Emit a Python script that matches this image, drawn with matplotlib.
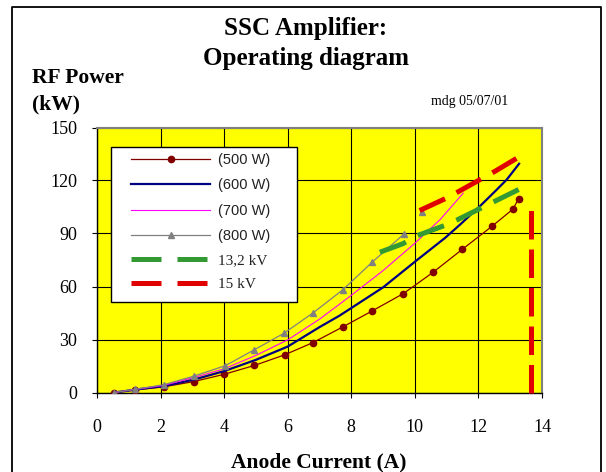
import numpy as np
import matplotlib
matplotlib.use("Agg")
import matplotlib.pyplot as plt
from matplotlib.lines import Line2D
from matplotlib.patches import Rectangle
from matplotlib.font_manager import FontProperties

# ---------------- data ----------------
x_500 = [0.55, 1.2, 2.1, 3.05, 4.0, 4.95, 5.9, 6.8, 7.73, 8.64, 9.64, 10.57, 11.49, 12.42, 13.08, 13.27]
y_500 = [0.0, 1.5, 3.2, 6.2, 10.3, 15.3, 21.3, 28.3, 37.1, 46.0, 56.0, 68.0, 81.0, 94.0, 103.7, 109.8]

x_600 = [0.55, 1.2, 2.1, 3.05, 4.0, 5.0, 6.0, 7.0, 7.63, 8.0, 9.0, 10.0, 10.95, 11.42, 12.05, 12.57, 12.89, 13.28]
y_600 = [0.0, 1.6, 3.6, 7.3, 12.1, 18.5, 26.0, 37.0, 43.5, 47.8, 59.5, 74.0, 87.5, 95.0, 105.5, 114.7, 120.5, 129.5]

x_700 = [0.55, 1.2, 2.1, 3.05, 4.0, 5.0, 6.0, 7.0, 7.63, 8.0, 9.0, 10.0, 10.8, 11.52]
y_700 = [0.0, 1.7, 4.0, 8.5, 13.4, 21.0, 29.8, 41.5, 50.0, 55.0, 69.0, 84.5, 98.0, 112.8]

x_800 = [0.55, 1.2, 2.1, 3.05, 4.04, 4.95, 5.88, 6.8, 7.73, 8.66, 9.66, np.nan, 10.23]
y_800 = [0.0, 1.8, 4.4, 9.3, 15.2, 24.2, 33.5, 45.1, 58.1, 73.8, 89.8, np.nan, 102.0]

x_132kv = [8.9, 9.62, 10.09, 10.93, 11.33, 13.31]
y_132kv = [79.4, 84.2, 88.9, 94.5, 97.7, 115.3]

x_15kv = [10.15, 11.05, 12.5, 13.31]
y_15kv = [103.0, 110.5, 125.0, 133.7]

x_limit = [13.66, 13.66]
y_limit = [0.0, 104.0]

labels = ["(500 W)", "(600 W)", "(700 W)", "(800 W)", "13,2 kV", "15 kV"]
xticks = [0, 2, 4, 6, 8, 10, 12, 14]
yticks = [0, 30, 60, 90, 120, 150]

# ---------------- style ----------------
W, H = 606, 472
SERIF = "Liberation Serif"
SANS = "Liberation Sans"
C500 = "#800000"
C600 = "#000080"
C700 = "#ff00ff"
C800 = "#808080"
CGRN = "#339933"
CRED = "#e00000"

def fx(px):
    return px / W

def fy(py):
    return 1 - py / H

fig = plt.figure(figsize=(W / 100, H / 100), dpi=100)
fig.patch.set_facecolor("white")

ax = fig.add_axes([fx(97), fy(392.5), fx(542) - fx(97), fy(127.5) - fy(392.5)])
ax.set_facecolor("#ffff00")
ax.set_xlim(0, 14)
ax.set_ylim(0, 150)
ax.set_xticks(xticks)
ax.set_yticks(yticks)
ax.grid(True, color="black", linewidth=0.8)
ax.set_axisbelow(True)
for s in ["top", "right"]:
    ax.spines[s].set_color("#808080")
    ax.spines[s].set_linewidth(1.5)
for s in ["left", "bottom"]:
    ax.spines[s].set_color("black")
    ax.spines[s].set_linewidth(1.0)
ax.tick_params(axis="both", direction="out", length=3.8, width=0.8, color="black",
               labelsize=13)
ax.tick_params(axis="x", pad=15)
ax.tick_params(axis="y", pad=10.5)
for lab in ax.get_xticklabels() + ax.get_yticklabels():
    lab.set_fontfamily(SERIF)

l1, = ax.plot(x_500, y_500, color=C500, lw=0.9, marker="o", ms=4.5, mec=C500, mfc=C500, zorder=3)
l2, = ax.plot(x_600, y_600, color=C600, lw=1.6, zorder=3)
l3, = ax.plot(x_700, y_700, color=C700, lw=0.8, zorder=3)
l4, = ax.plot(x_800, y_800, color=C800, lw=0.9, marker="^", ms=5, mec=C800, mfc=C800, zorder=3)
l5, = ax.plot(x_132kv, y_132kv, color=CGRN, lw=3.6, dashes=(5.6, 2.7), dash_capstyle="butt", zorder=4)
l6, = ax.plot(x_15kv, y_15kv, color=CRED, lw=3.6, dashes=(5.6, 2.6), dash_capstyle="butt", zorder=4)
ax.plot(x_limit, y_limit, color=CRED, lw=3.6, dashes=(5.7, 2.0), dash_capstyle="butt", zorder=4,
        clip_on=False)

# legend (custom handles so the dash pattern matches the box)
h5 = Line2D([], [], color=CGRN, lw=3.6, dashes=(6.0, 3.2), dash_capstyle="butt")
h6 = Line2D([], [], color=CRED, lw=3.6, dashes=(6.0, 3.2), dash_capstyle="butt")
fig.patches.append(Rectangle((fx(110.7), fy(301.7)), fx(296.7) - fx(110.7), fy(147.3) - fy(301.7),
                             transform=fig.transFigure, facecolor="white", edgecolor="black",
                             linewidth=1.0, zorder=4))
leg = fig.legend([l1, l2, l3, l4, h5, h6], labels, loc="upper left",
                 bbox_to_anchor=(fx(131), fy(153)), frameon=False, numpoints=1,
                 handlelength=5.7, handletextpad=0.55, labelspacing=0.81,
                 borderpad=0, borderaxespad=0, prop=FontProperties(family=SANS, size=10))
leg.set_zorder(5)
for i, t in enumerate(leg.get_texts()):
    t.set_color("#222222")
    if i >= 4:
        t.set_fontproperties(FontProperties(family=SERIF, size=11))
    else:
        t.set_fontproperties(FontProperties(family=SANS, size=10.5))

# titles and labels
fig.text(fx(306), fy(29), "SSC Amplifier:", ha="center", va="center", family=SERIF,
         weight="bold", size=18)
fig.text(fx(306), fy(58), "Operating diagram", ha="center", va="center", family=SERIF,
         weight="bold", size=18)
fig.text(fx(32), fy(78), "RF Power", ha="left", va="center", family=SERIF, weight="bold", size=15.5)
fig.text(fx(32), fy(104), "(kW)", ha="left", va="center", family=SERIF, weight="bold", size=15.5)
fig.text(fx(470), fy(101.7), "mdg 05/07/01", ha="center", va="center", family=SERIF, size=10)
fig.text(fx(318.5), fy(467.5), "Anode Current (A)", ha="center", va="baseline", family=SERIF,
         weight="bold", size=15.5)

# outer frame
fig.add_artist(Line2D([fx(11.7), fx(11.7), fx(600.7), fx(600.7)],
                      [fy(480), fy(6.7), fy(6.7), fy(480)],
                      transform=fig.transFigure, color="black", lw=1.3))

fig.savefig("out.png", dpi=100)
